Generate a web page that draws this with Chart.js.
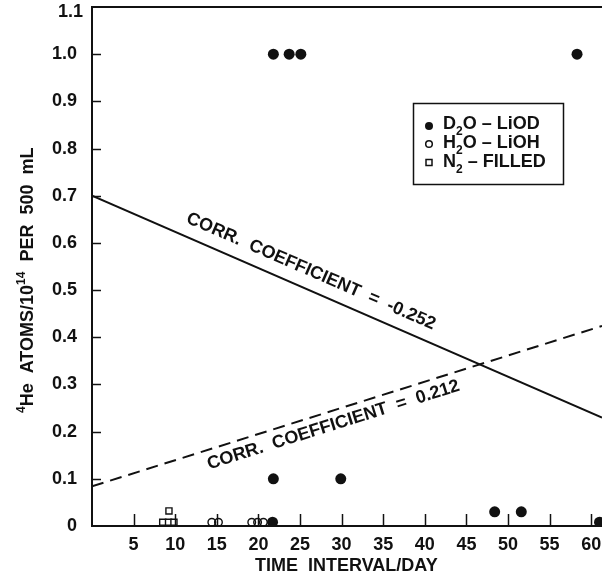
<!DOCTYPE html>
<html>
<head>
<meta charset="utf-8">
<script src="https://cdn.jsdelivr.net/npm/chart.js@4/dist/chart.umd.min.js"></script>
<style>
  html, body { margin: 0; padding: 0; background: #fff; }
  #wrap { width: 602px; height: 577px; }
</style>
</head>
<body>
<div id="wrap"><canvas id="heChart" width="602" height="577"></canvas></div>
<script>
// ---- data ----
const d2oDays = [21.8, 23.7, 25.1, 58.3, 21.8, 29.9, 21.7, 48.4, 51.6, 61.0];
const d2oHe   = [1.0, 1.0, 1.0, 1.0, 0.1, 0.1, 0.008, 0.03, 0.03, 0.008];
const h2oDays = [14.4, 15.2, 19.2, 19.9, 20.6];
const h2oHe   = [0.008, 0.008, 0.008, 0.008, 0.008];
const n2Days  = [8.5, 9.2, 9.85, 9.25];
const n2He    = [0.008, 0.008, 0.008, 0.032];
// fitted lines (end points)
const fitDays = [0, 61.3];
const fitD2o  = [0.70, 0.23];
const fitAll  = [0.084, 0.424];
// tick labels
const xTickValues = [5, 10, 15, 20, 25, 30, 35, 40, 45, 50, 55, 60];
const yTickValues = [0, 0.1, 0.2, 0.3, 0.4, 0.5, 0.6, 0.7, 0.8, 0.9, 1.0, 1.1];

const ink = '#111';
const FONT = '"Liberation Sans", Arial, Helvetica, sans-serif';

const pts = (xs, ys) => xs.map((x, i) => ({ x: x, y: ys[i] }));

// draw text made of pieces, some of them sub/superscript
function richText(ctx, parts, x, y, size) {
    let cx = x;
    parts.forEach(p => {
        const small = p.sub || p.sup;
        const s = small ? Math.round(size * 0.64) : size;
        ctx.font = `bold ${s}px ${FONT}`;
        const dy = p.sub ? size * 0.32 : (p.sup ? -size * 0.42 : 0);
        ctx.fillText(p.t, cx, y + dy);
        cx += ctx.measureText(p.t).width;
    });
}

const decor = {
    id: 'decor',
    afterDraw(chart) {
        const { ctx, chartArea: a, scales: { x, y } } = chart;
        ctx.save();
        ctx.strokeStyle = ink;
        ctx.fillStyle = ink;

        // top frame line
        ctx.lineWidth = 2;
        ctx.beginPath();
        ctx.moveTo(a.left, a.top);
        ctx.lineTo(a.right, a.top);
        ctx.stroke();

        // inward tick marks
        ctx.lineWidth = 1.5;
        xTickValues.forEach(v => {
            const px = Math.round(x.getPixelForValue(v)) + 0.5;
            ctx.beginPath();
            ctx.moveTo(px, a.bottom);
            ctx.lineTo(px, a.bottom - 12);
            ctx.stroke();
        });
        yTickValues.forEach(v => {
            if (v === 0 || v > 1.05) return;
            const py = Math.round(y.getPixelForValue(v)) + 0.5;
            ctx.beginPath();
            ctx.moveTo(a.left, py);
            ctx.lineTo(a.left + 9, py);
            ctx.stroke();
        });

        // top label sits a little under the frame line (as in the original)
        ctx.font = `bold 18px ${FONT}`;
        ctx.textAlign = 'right';
        ctx.textBaseline = 'middle';
        ctx.fillText('1.1', a.left - 9, y.getPixelForValue(1.1) + 5);

        // correlation labels along the two lines
        const drawAlong = (vals, text, atDay, offset) => {
            const px0 = x.getPixelForValue(fitDays[0]), py0 = y.getPixelForValue(vals[0]);
            const px1 = x.getPixelForValue(fitDays[1]), py1 = y.getPixelForValue(vals[1]);
            const ang = Math.atan2(py1 - py0, px1 - px0);
            const t = (atDay - fitDays[0]) / (fitDays[1] - fitDays[0]);
            const ax = px0 + (px1 - px0) * t, ay = py0 + (py1 - py0) * t;
            ctx.save();
            ctx.translate(ax, ay);
            ctx.rotate(ang);
            ctx.font = `bold 18px ${FONT}`;
            ctx.textAlign = 'left';
            ctx.textBaseline = 'alphabetic';
            ctx.fillText(text, 0, offset);
            ctx.restore();
        };
        drawAlong(fitD2o, 'CORR.  COEFFICIENT  =  -0.252', 10.6, -13);
        drawAlong(fitAll, 'CORR.  COEFFICIENT  =  0.212', 13.4, 19);

        // axis titles
        ctx.textAlign = 'left';
        ctx.textBaseline = 'alphabetic';
        ctx.font = `bold 18px ${FONT}`;
        ctx.fillText('TIME  INTERVAL/DAY', 255, 571);

        ctx.save();
        ctx.translate(33, 413);
        ctx.rotate(-Math.PI / 2);
        richText(ctx, [
            { t: '4', sup: true }, { t: 'He  ATOMS/10' }, { t: '14', sup: true }, { t: '  PER  500  mL' }
        ], 0, 0, 18);
        ctx.restore();

        // legend box
        ctx.lineWidth = 1.5;
        ctx.strokeRect(413.5, 103.5, 150, 81);
        ctx.beginPath();
        ctx.arc(429, 126, 4, 0, Math.PI * 2);
        ctx.fill();
        ctx.beginPath();
        ctx.arc(429, 144, 3.3, 0, Math.PI * 2);
        ctx.stroke();
        ctx.strokeRect(426, 159.5, 6, 6);
        richText(ctx, [{ t: 'D' }, { t: '2', sub: true }, { t: 'O – LiOD' }], 443, 129, 18);
        richText(ctx, [{ t: 'H' }, { t: '2', sub: true }, { t: 'O – LiOH' }], 443, 148, 18);
        richText(ctx, [{ t: 'N' }, { t: '2', sub: true }, { t: ' – FILLED' }], 443, 167, 18);

        ctx.restore();
    }
};

new Chart(document.getElementById('heChart'), {
    type: 'scatter',
    data: {
        datasets: [
            {
                label: 'D2O - LiOD',
                data: pts(d2oDays, d2oHe),
                pointStyle: 'circle',
                pointRadius: 5.5,
                backgroundColor: ink,
                borderColor: ink,
                borderWidth: 0
            },
            {
                label: 'H2O - LiOH',
                data: pts(h2oDays, h2oHe),
                pointStyle: 'circle',
                pointRadius: 3.8,
                backgroundColor: 'rgba(0,0,0,0)',
                borderColor: ink,
                borderWidth: 1.4
            },
            {
                label: 'N2 - FILLED',
                data: pts(n2Days, n2He),
                pointStyle: 'rect',
                pointRadius: 4.3,
                backgroundColor: '#fff',
                borderColor: ink,
                borderWidth: 1.4
            },
            {
                type: 'line',
                label: 'fit D2O',
                data: pts(fitDays, fitD2o),
                borderColor: ink,
                borderWidth: 2,
                pointRadius: 0,
                fill: false
            },
            {
                type: 'line',
                label: 'fit all',
                data: pts(fitDays, fitAll),
                borderColor: ink,
                borderWidth: 2,
                borderDash: [12, 7],
                pointRadius: 0,
                fill: false
            }
        ]
    },
    options: {
        responsive: false,
        animation: false,
        layout: { padding: { top: 7, right: 0, left: 0, bottom: 0 }, autoPadding: false },
        plugins: {
            legend: { display: false },
            tooltip: { enabled: false }
        },
        scales: {
            x: {
                type: 'linear',
                min: 0,
                max: 61.3,
                grid: { display: false },
                border: { display: true, width: 2, color: ink },
                ticks: {
                    stepSize: 5,
                    includeBounds: false,
                    autoSkip: false,
                    maxRotation: 0,
                    color: ink,
                    padding: 0,
                    font: { family: FONT, size: 18, weight: 'bold' },
                    callback: v => (v === 0 ? '' : v)
                },
                afterFit: s => {
                    s.height = 51;
                    s.paddingLeft = 0; s.paddingRight = 0;
                }
            },
            y: {
                type: 'linear',
                min: 0,
                max: 1.1,
                grid: { display: false },
                border: { display: true, width: 2, color: ink },
                ticks: {
                    stepSize: 0.1,
                    autoSkip: false,
                    color: ink,
                    padding: 7,
                    font: { family: FONT, size: 18, weight: 'bold' },
                    // 1.1 is drawn by the decor plugin, slightly lower
                    callback: v => (Math.abs(v) < 1e-9 ? '0' : (v > 1.05 ? '' : v.toFixed(1)))
                },
                afterFit: s => {
                    s.width = 92;
                    s.paddingTop = 0; s.paddingBottom = 0;
                }
            }
        }
    },
    plugins: [decor]
});
</script>
</body>
</html>
